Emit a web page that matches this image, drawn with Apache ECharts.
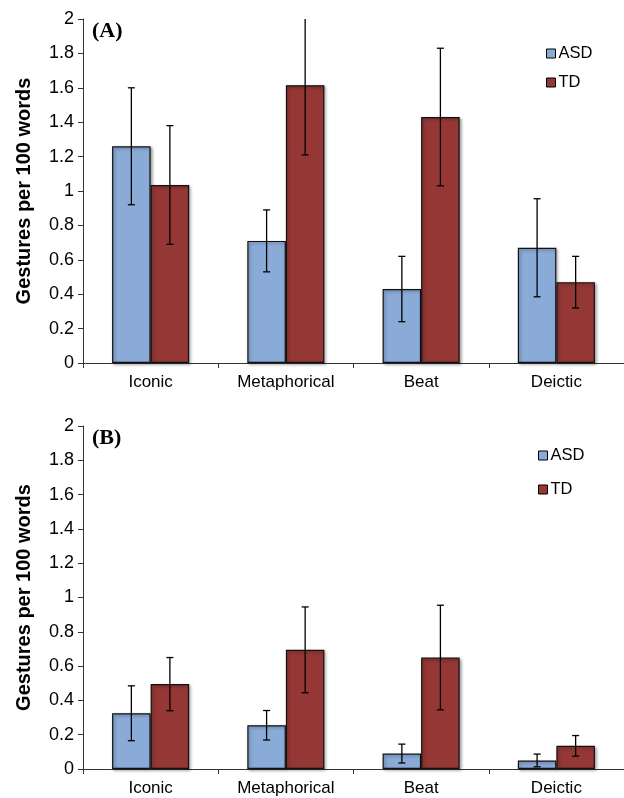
<!DOCTYPE html>
<html>
<head>
<meta charset="utf-8">
<script src="https://cdn.jsdelivr.net/npm/echarts@6/dist/echarts.min.js"></script>
<style>html,body{margin:0;padding:0;background:#fff}#c{width:624px;height:798px}</style>
</head>
<body>
<div id="c"></div>
<script>
const categories = ['Iconic', 'Metaphorical', 'Beat', 'Deictic'];
const yTicks = ['0', '0.2', '0.4', '0.6', '0.8', '1', '1.2', '1.4', '1.6', '1.8', '2'];
// Panel A
const asdA = [1.26, 0.71, 0.43, 0.67];
const asdAErr = [0.34, 0.18, 0.19, 0.285];
const tdA = [1.035, 1.615, 1.43, 0.47];
const tdAErr = [0.345, 0.405, 0.40, 0.15];
// Panel B
const asdB = [0.325, 0.255, 0.09, 0.05];
const asdBErr = [0.16, 0.086, 0.055, 0.037];
const tdB = [0.495, 0.695, 0.65, 0.135];
const tdBErr = [0.155, 0.25, 0.305, 0.06];

const BLUE = '#8AABD7', RED = '#953735';
const CAT_GAP = 0.43;
const FONT = 'Liberation Sans, Arial, sans-serif';

const chart = echarts.init(document.getElementById('c'), null, {renderer: 'canvas'});

function errData(vals, errs) {
  return vals.map((v, i) => [i, v, errs[i]]);
}
function errSeries(name, idx, vals, errs, side) {
  return {
    type: 'custom', name: name + '_err', xAxisIndex: idx, yAxisIndex: idx, z: 5,
    silent: true, legendHoverLink: false,
    data: errData(vals, errs),
    renderItem: function (params, api) {
      const i = api.value(0), v = api.value(1), e = api.value(2);
      const band = api.size([1, 0])[0];
      const barW = band * (1 - CAT_GAP) / 2;
      const x = api.coord([i, v])[0] + side * barW / 2;
      const top = params.coordSys.y;
      let yHi = api.coord([i, v + e])[1];
      const yLo = api.coord([i, v - e])[1];
      const clipped = yHi < top;
      if (clipped) yHi = top;
      const st = {stroke: '#000', lineWidth: 1.3};
      const ch = [
        {type: 'line', shape: {x1: x, y1: yHi, x2: x, y2: yLo}, style: st},
        {type: 'line', shape: {x1: x - 3.5, y1: yLo, x2: x + 3.5, y2: yLo}, style: st}
      ];
      if (!clipped) ch.push({type: 'line', shape: {x1: x - 3.5, y1: yHi, x2: x + 3.5, y2: yHi}, style: st});
      return {type: 'group', children: ch};
    }
  };
}
function barSeries(name, idx, vals, color) {
  return {
    type: 'bar', name: name, xAxisIndex: idx, yAxisIndex: idx,
    data: vals, barGap: '0%', barCategoryGap: (CAT_GAP * 100) + '%',
    itemStyle: {color: color, borderColor: '#111', borderWidth: 1.2,
      shadowColor: 'rgba(0,0,0,0.35)', shadowBlur: 3, shadowOffsetX: 1.5, shadowOffsetY: 1.5}
  };
}
function xAxis(idx) {
  return {
    type: 'category', gridIndex: idx, data: categories,
    axisLine: {lineStyle: {color: '#333', width: 1}},
    axisTick: {show: true, length: 5, alignWithLabel: false, lineStyle: {color: '#333'}},
    axisLabel: {color: '#000', fontSize: 17, fontFamily: FONT, margin: 11}
  };
}
function yAxis(idx) {
  return {
    type: 'value', gridIndex: idx, min: 0, max: 2, interval: 0.2,
    name: 'Gestures per 100 words', nameLocation: 'middle', nameGap: 49,
    nameTextStyle: {fontSize: 20, fontWeight: 'bold', color: '#000', fontFamily: FONT},
    splitLine: {show: false},
    axisLine: {show: true, lineStyle: {color: '#333', width: 1}},
    axisTick: {show: true, length: 5, lineStyle: {color: '#333'}},
    axisLabel: {color: '#000', fontSize: 18, fontFamily: FONT, margin: 9,
      formatter: function (v) { return yTicks[Math.round(v / 0.2)]; }}
  };
}

chart.setOption({
  animation: false,
  backgroundColor: '#fff',
  grid: [
    {left: 83, top: 19, width: 544, height: 344},
    {left: 83, top: 426, width: 544, height: 343}
  ],
  xAxis: [xAxis(0), xAxis(1)],
  yAxis: [yAxis(0), yAxis(1)],
  legend: [
    {orient: 'vertical', left: 546, top: 45, padding: 0, itemWidth: 9, itemHeight: 9, itemGap: 12, icon: 'rect',
     data: ['ASD', 'TD'], itemStyle: {borderColor: '#000', borderWidth: 1},
     textStyle: {fontSize: 16.5, lineHeight: 15, color: '#000', fontFamily: FONT, padding: [0, 0, 0, -2]}, selectedMode: false},
    {orient: 'vertical', left: 538, top: 447, padding: 0, itemWidth: 9, itemHeight: 9, itemGap: 17, icon: 'rect',
     data: ['ASD', 'TD'], itemStyle: {borderColor: '#000', borderWidth: 1},
     textStyle: {fontSize: 16.5, lineHeight: 15, color: '#000', fontFamily: FONT, padding: [0, 0, 0, -2]}, selectedMode: false}
  ],
  graphic: [
    {type: 'text', left: 92, top: 20, style: {text: '(A)', font: 'bold 22px "Liberation Serif", "Times New Roman", serif', fill: '#000'}},
    {type: 'text', left: 92, top: 427, style: {text: '(B)', font: 'bold 22px "Liberation Serif", "Times New Roman", serif', fill: '#000'}}
  ],
  series: [
    barSeries('ASD', 0, asdA, BLUE),
    barSeries('TD', 0, tdA, RED),
    errSeries('ASD', 0, asdA, asdAErr, -1),
    errSeries('TD', 0, tdA, tdAErr, 1),
    barSeries('ASD', 1, asdB, BLUE),
    barSeries('TD', 1, tdB, RED),
    errSeries('ASD', 1, asdB, asdBErr, -1),
    errSeries('TD', 1, tdB, tdBErr, 1)
  ]
});
</script>
</body>
</html>
